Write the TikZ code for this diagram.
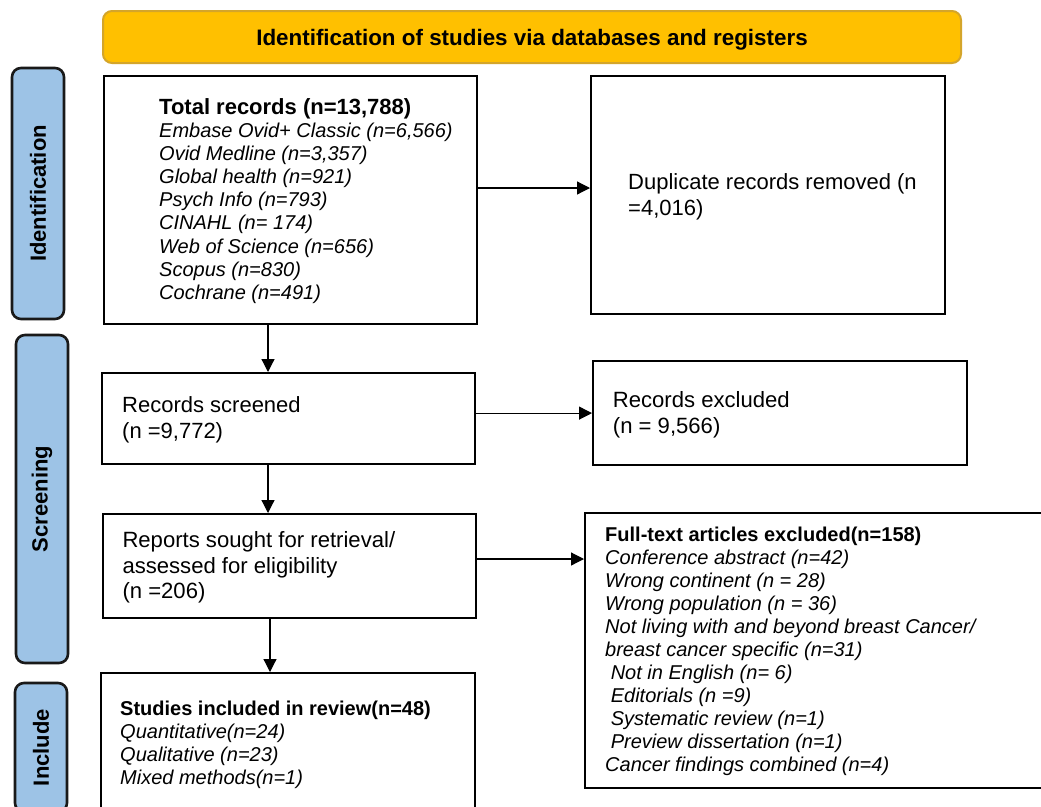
\documentclass[tikz,border=0pt]{standalone}
\usepackage{fontspec}
\setmainfont{Liberation Sans}
\usetikzlibrary{arrows.meta,calc}
\definecolor{hdrfill}{HTML}{FFC000}
\definecolor{hdrline}{HTML}{D4A52A}
\definecolor{sidefill}{HTML}{9DC3E6}
\begin{document}
\begin{tikzpicture}[x=1pt,y=-1pt,
  box/.style={draw=black, line width=2.2pt, rectangle, anchor=north west, inner sep=0pt},
  sidebox/.style={draw=black!90, fill=sidefill, line width=2.6pt, rounded corners=9pt, rotate=90, inner sep=0pt, minimum height=52pt, font=\fontsize{22}{26}\selectfont\bfseries},
  txt/.style={anchor=north west, inner sep=0pt, align=left},
  arr/.style={line width=1.2pt, -{Triangle[length=13pt,width=13pt]}}]
\useasboundingbox (0,0) rectangle (1041,806);
\clip (0,0) rectangle (1041,806);
\fill[white] (0,0) rectangle (1041,806);

% header
\node[draw=hdrline, fill=hdrfill, line width=2pt, rounded corners=9pt, minimum width=858pt, minimum height=52pt, inner sep=0pt, text height=16pt, text depth=0pt, font=\fontsize{22.4}{26}\selectfont\bfseries] (hdr) at (532,37) {Identification of studies via databases and registers};

% side labels
\node[sidebox, minimum width=251pt] (sid) at (38,193.5) {Identification};
\node[sidebox, minimum width=328pt] (sscr) at (42,499) {Screening};
\node[sidebox, minimum width=129pt] (sinc) at (41,747.5) {Include};

% boxes
\node[box, minimum width=373pt, minimum height=248pt] (tot) at (103,75) {};
\node[box, minimum width=354pt, minimum height=238pt] (dup) at (590,75) {};
\node[box, minimum width=373pt, minimum height=91pt] (scr) at (101,372) {};
\node[box, minimum width=374pt, minimum height=104pt] (exc) at (592,360) {};
\node[box, minimum width=373pt, minimum height=104pt] (rep) at (102,513) {};
\node[box, minimum width=480pt, minimum height=275pt] (ft) at (584,512) {};
\node[box, minimum width=374pt, minimum height=160pt] (inc) at (100,672) {};

% texts
\node[txt, font=\fontsize{20}{23.1}\selectfont\itshape] (totT) at (159,98.3) {{\fontsize{22}{23.1}\selectfont\bfseries\upshape Total records (n=13,788)}\\
Embase Ovid+ Classic (n=6,566)\\
Ovid Medline (n=3,357)\\
Global health (n=921)\\
Psych Info (n=793)\\
CINAHL (n= 174)\\
Web of Science (n=656)\\
Scopus (n=830)\\
Cochrane (n=491)};

\node[txt, font=\fontsize{22}{26}\selectfont] (dupT) at (628,173.3) {Duplicate records removed (n\\=4,016)};
\node[txt, font=\fontsize{22}{25.7}\selectfont] (scrT) at (122,396.7) {Records screened\\(n =9,772)};
\node[txt, font=\fontsize{22.1}{26}\selectfont] (excT) at (612.7,391.3) {Records excluded\\(n = 9,566)};
\node[txt, font=\fontsize{22.1}{25.5}\selectfont] (repT) at (122.3,531.3) {Reports sought for retrieval/\\assessed for eligibility\\(n =206)};

\node[txt, font=\fontsize{20}{23}\selectfont\itshape] (ftT) at (605,527.1) {{\bfseries\upshape Full-text articles excluded(n=158)}\\
Conference abstract (n=42)\\
Wrong continent (n = 28)\\
Wrong population (n = 36)\\
Not living with and beyond breast Cancer/\\
breast cancer specific (n=31)\\
\hspace*{5.6pt}Not in English (n= 6)\\
\hspace*{5.6pt}Editorials (n =9)\\
\hspace*{5.6pt}Systematic review (n=1)\\
\hspace*{5.6pt}Preview dissertation (n=1)\\
Cancer findings combined (n=4)};

\node[txt, font=\fontsize{20}{22.8}\selectfont\itshape] (incT) at (120,701.1) {{\bfseries\upshape Studies included in review(n=48)}\\
Quantitative(n=24)\\
Qualitative (n=23)\\
Mixed methods(n=1)};

% arrows
\draw[arr] ($(tot.north east)+(0,113)$) -- ($(dup.north west)+(0,113)$);
\draw[arr] ($(tot.south west)+(165,0)$) -- ($(scr.north west)+(167,0)$);
\draw[arr] (scr.east |- exc.west) -- (exc.west);
\draw[arr] ($(scr.south west)+(167,0)$) -- ($(rep.north west)+(166,0)$);
\draw[arr] ($(rep.north east)+(0,46)$) -- ($(ft.north west)+(0,47)$);
\draw[arr] ($(rep.south west)+(168,0)$) -- ($(inc.north west)+(170,0)$);
\end{tikzpicture}
\end{document}
